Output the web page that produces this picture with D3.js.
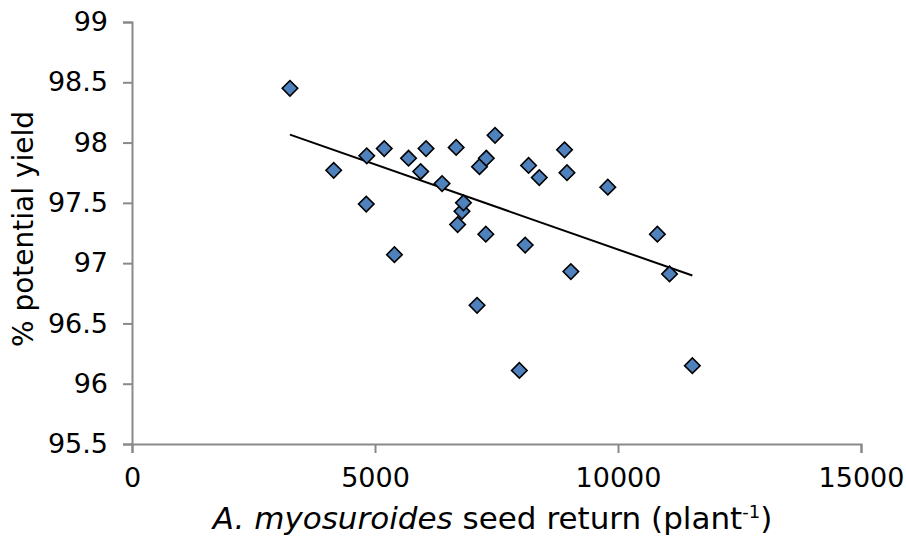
<!DOCTYPE html>
<html>
<head>
<meta charset="utf-8">
<script src="https://cdn.jsdelivr.net/npm/d3@7"></script>
<style>
  html, body { margin: 0; padding: 0; background: #fff; }
  svg { display: block; }
  text { font-family: "DejaVu Sans", Verdana, sans-serif; fill: #000; }
</style>
</head>
<body>
<svg id="chart" width="906" height="539"></svg>
<script>
// Seed return per plant vs. percentage of potential yield
const seedReturn = [3250, 4150, 4820, 4830, 5190, 5400, 5690, 5940, 6050, 6380,
                    6670, 6700, 6790, 6820, 7100, 7150, 7280, 7290, 7470, 7970,
                    8090, 8160, 8380, 8900, 8950, 9030, 9790, 10810, 11060, 11530];
const potentialYield = [98.45, 97.77, 97.49, 97.89, 97.95, 97.07, 97.87, 97.76, 97.95, 97.66,
                        97.96, 97.32, 97.43, 97.50, 96.65, 97.80, 97.24, 97.87, 98.06, 96.11,
                        97.15, 97.81, 97.71, 97.94, 97.75, 96.93, 97.63, 97.24, 96.91, 96.15];
const xTicks = [0, 5000, 10000, 15000];
const yTicks = [95.5, 96, 96.5, 97, 97.5, 98, 98.5, 99];

const svg = d3.select("#chart");
const plotLeft = 132, plotRight = 861, plotTop = 22, plotBottom = 444;

const x = d3.scaleLinear().domain([0, 15000]).range([plotLeft, plotRight]);
const y = d3.scaleLinear().domain([95.5, 99]).range([plotBottom, plotTop]);

const axisColor = "#898989";
const tickFont = 27;

// Y axis
const gy = svg.append("g")
  .attr("transform", `translate(${plotLeft},0)`)
  .call(d3.axisLeft(y).tickValues(yTicks).tickSize(9).tickPadding(15)
        .tickFormat(d => d3.format("")(d)));
gy.select(".domain").attr("stroke", axisColor).attr("stroke-width", 2);
gy.selectAll(".tick line").attr("stroke", axisColor).attr("stroke-width", 2);
gy.selectAll(".tick text").attr("font-size", tickFont).attr("font-family", "DejaVu Sans").attr("fill", "#000");

// X axis
const gx = svg.append("g")
  .attr("transform", `translate(0,${plotBottom})`)
  .call(d3.axisBottom(x).tickValues(xTicks).tickSize(9).tickPadding(15)
        .tickFormat(d3.format("d")));
gx.select(".domain").attr("stroke", axisColor).attr("stroke-width", 2);
gx.selectAll(".tick line").attr("stroke", axisColor).attr("stroke-width", 2);
gx.selectAll(".tick text").attr("font-size", tickFont).attr("font-family", "DejaVu Sans").attr("fill", "#000");

// Least-squares linear trend over the observed range
const n = seedReturn.length;
const mx = d3.mean(seedReturn), my = d3.mean(potentialYield);
let sxy = 0, sxx = 0;
for (let i = 0; i < n; i++) {
  sxy += (seedReturn[i] - mx) * (potentialYield[i] - my);
  sxx += (seedReturn[i] - mx) ** 2;
}
const slope = sxy / sxx, intercept = my - slope * mx;
const [xmin, xmax] = d3.extent(seedReturn);
svg.append("line")
  .attr("x1", x(xmin)).attr("y1", y(intercept + slope * xmin))
  .attr("x2", x(xmax)).attr("y2", y(intercept + slope * xmax))
  .attr("stroke", "#000").attr("stroke-width", 2);

// Diamond markers
const sym = d3.symbol().type(d3.symbolSquare).size(120);
svg.append("g").selectAll("path")
  .data(d3.range(n))
  .join("path")
  .attr("d", sym)
  .attr("transform", i => `translate(${x(seedReturn[i])},${y(potentialYield[i])}) rotate(45)`)
  .attr("fill", "#4F81BD")
  .attr("stroke", "#000")
  .attr("stroke-width", 1.6);

// Axis titles
const xt = svg.append("text")
  .attr("x", (plotLeft + plotRight) / 2 - 4).attr("y", 529)
  .attr("text-anchor", "middle")
  .attr("font-size", 31);
xt.append("tspan").attr("font-style", "italic").text("A. myosuroides");
xt.append("tspan").text(" seed return (plant");
xt.append("tspan").attr("font-size", 18).attr("dy", -11).text("-1");
xt.append("tspan").attr("dy", 11).text(")");

svg.append("text")
  .attr("transform", `translate(33,${(plotTop + plotBottom) / 2 - 4}) rotate(-90)`)
  .attr("text-anchor", "middle")
  .attr("font-size", 28)
  .text("% potential yield");
</script>
</body>
</html>
